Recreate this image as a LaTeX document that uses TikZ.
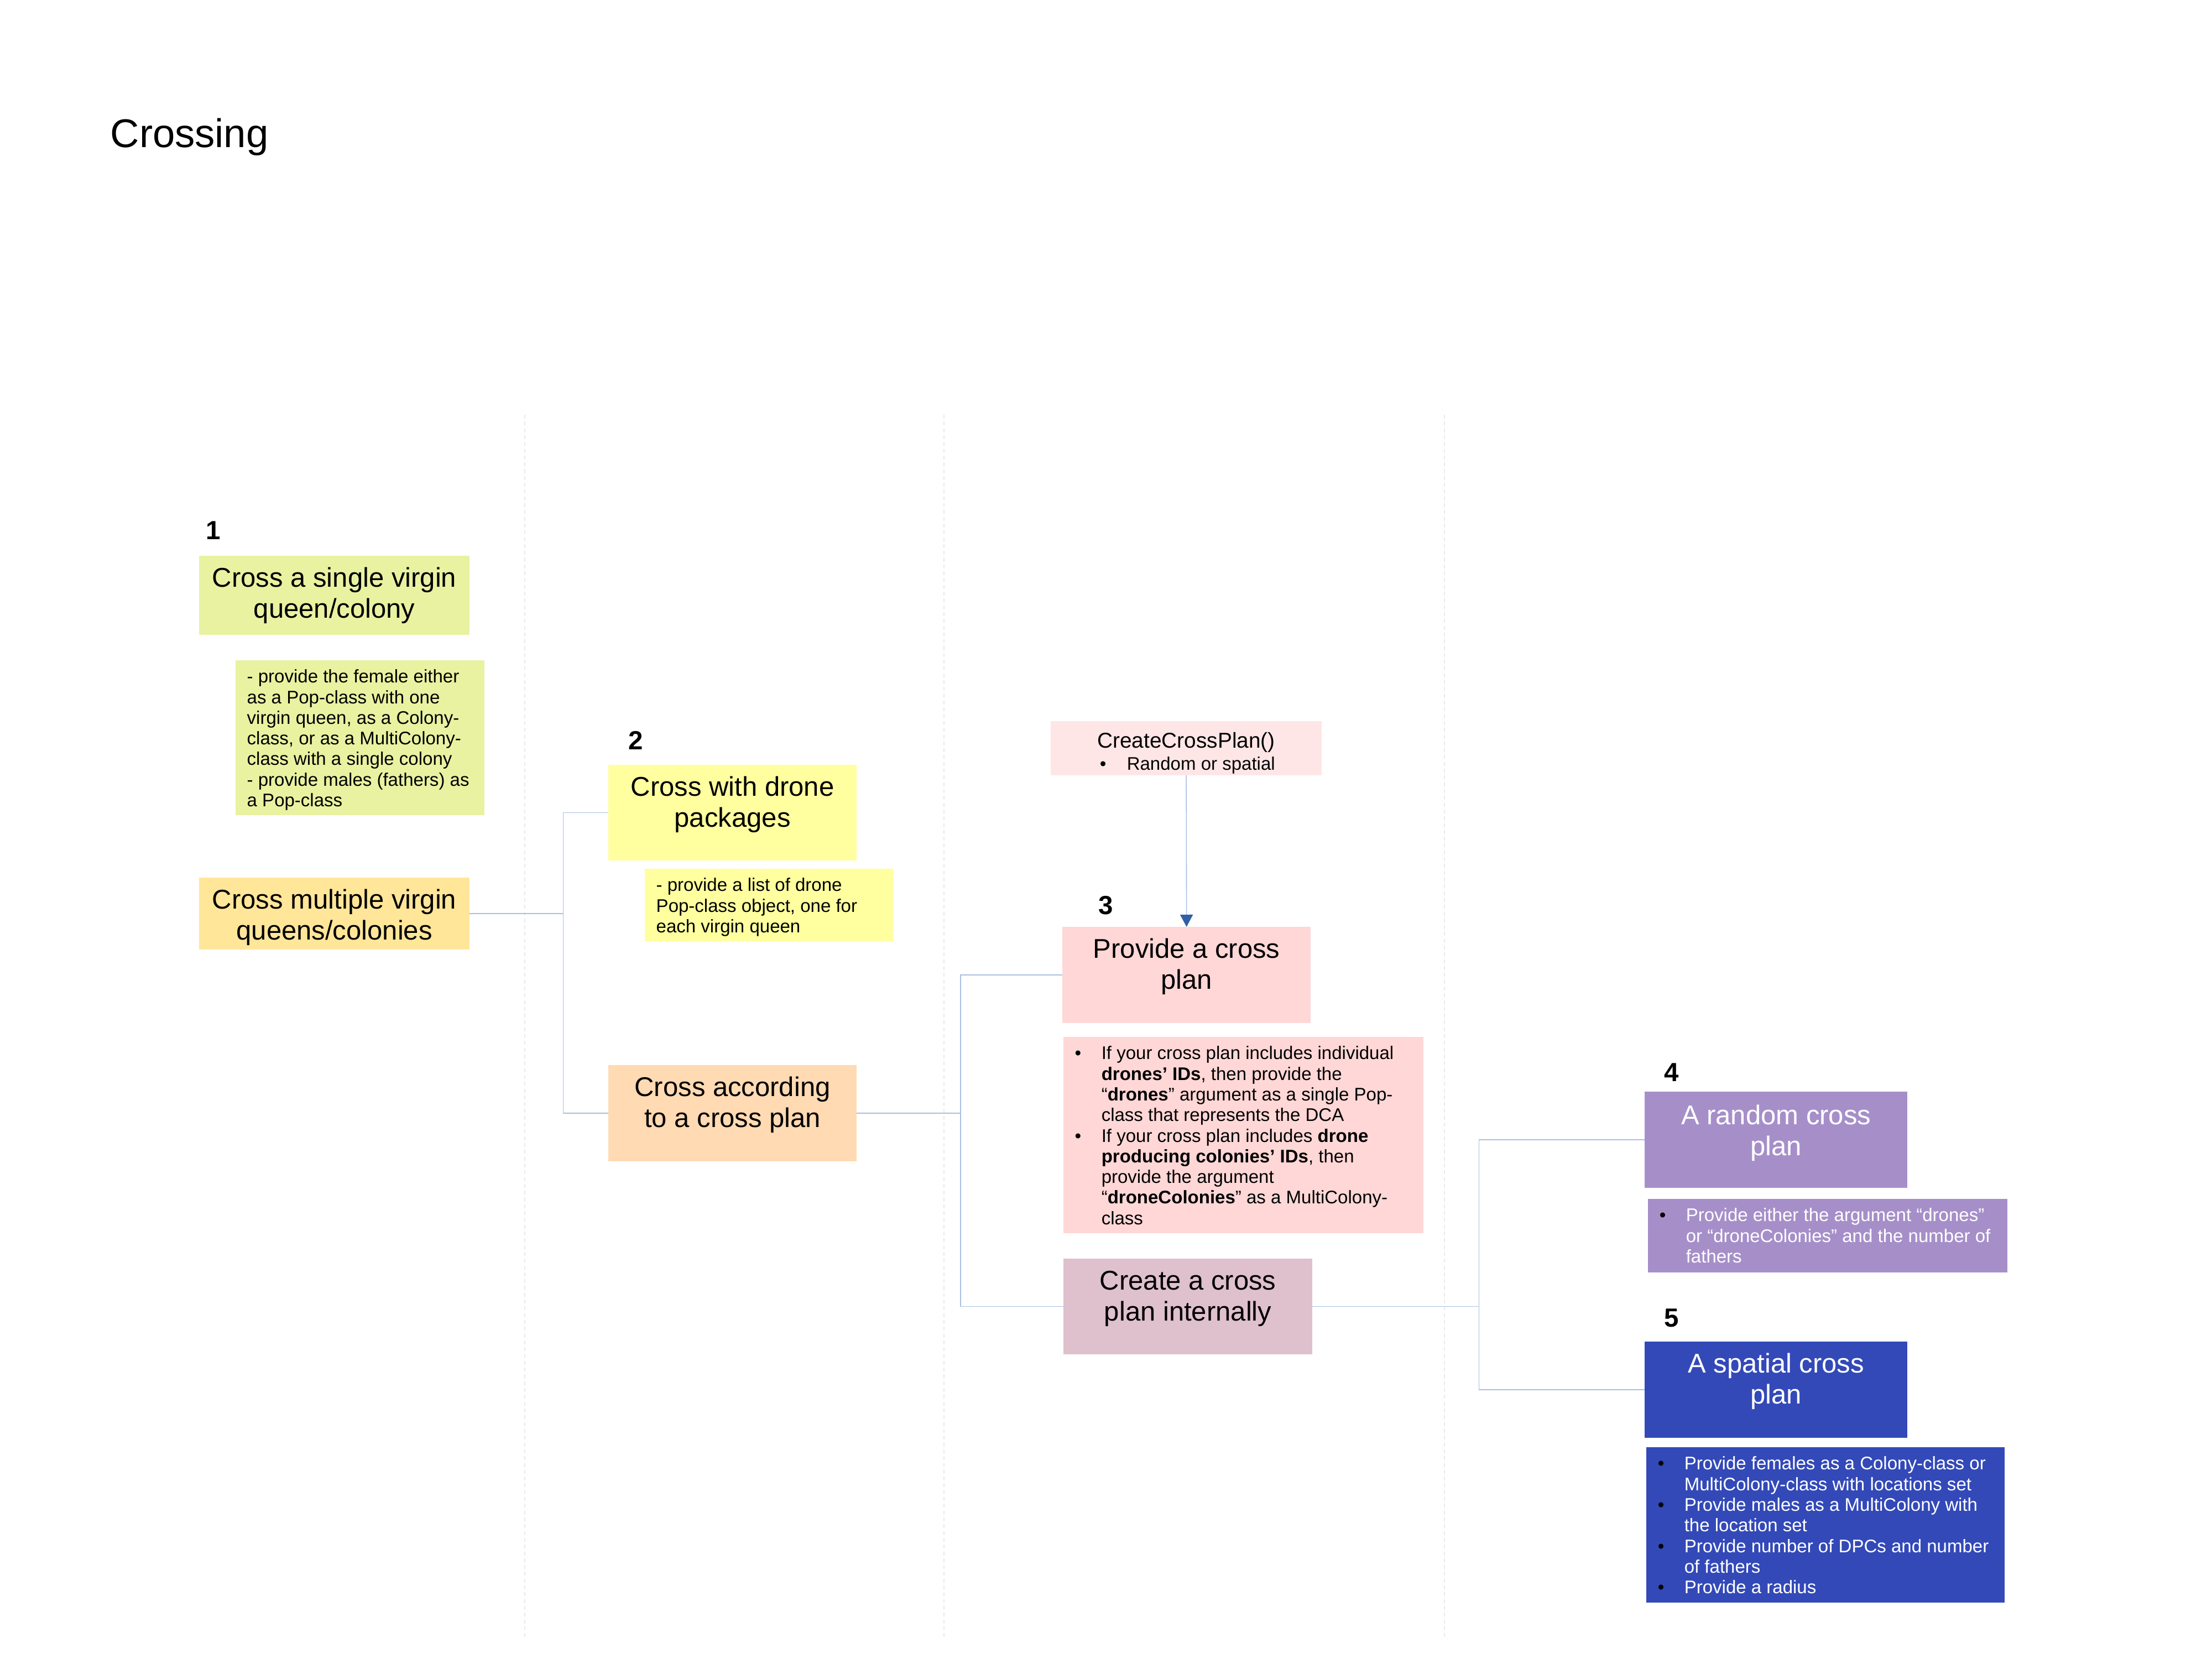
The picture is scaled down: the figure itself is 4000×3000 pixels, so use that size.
\documentclass[tikz,border=0pt]{standalone}
\usepackage{fontspec}
\setmainfont{Liberation Sans}
\usetikzlibrary{arrows.meta}
\definecolor{cOne}{HTML}{E8F2A1}
\definecolor{cMulti}{HTML}{FFE699}
\definecolor{cTwo}{HTML}{FFFF9F}
\definecolor{cAcc}{HTML}{FFDAB3}
\definecolor{cPlanFn}{HTML}{FFE6E6}
\definecolor{cThree}{HTML}{FFD7D7}
\definecolor{cInt}{HTML}{DFC0CD}
\definecolor{cFour}{HTML}{A68FC9}
\definecolor{cFive}{HTML}{3349B8}
\definecolor{connC}{HTML}{A9BFE2}
\definecolor{arrowC}{HTML}{2F5FA8}
\definecolor{gridC}{HTML}{EAEAEA}
\newcommand\tstrut{\rule{0pt}{0.9em}}
\newcommand\bul{\makebox[0.48cm][l]{\textbullet}}
\newcommand\bbul{\makebox[0.48cm][l]{\color{black}\textbullet}}
\newcommand\ind{\hspace*{0.48cm}}
\begin{document}
\begin{tikzpicture}[x=0.01cm, y=-0.01cm,
  box/.style={anchor=north west, inner sep=0pt, outer sep=0pt, draw=none},
  ttl/.style={anchor=north, inner sep=0pt, align=center, font=\fontsize{13.94pt}{15.93pt}\selectfont},
  note/.style={anchor=north west, inner sep=0pt, align=left, font=\fontsize{9.39pt}{10.61pt}\selectfont},
  num/.style={anchor=base west, inner sep=0pt, font=\fontsize{13.5pt}{16pt}\selectfont\bfseries},
  conn/.style={draw=connC, line width=0.45pt},
  gridline/.style={draw=gridC, line width=0.5pt, dash pattern=on 2pt off 1.5pt}]
\useasboundingbox (0,0) rectangle (4000,3000);

% column guide lines
\draw[gridline] (949,750) -- (949,2965);
\draw[gridline] (1707,750) -- (1707,2965);
\draw[gridline] (2612,750) -- (2612,2965);

% title
\node[anchor=base west, inner sep=0pt, font=\fontsize{20.6pt}{24pt}\selectfont] (title) at (199,266) {Crossing};

% column 1
\node[num] (l1) at (372,975) {1};
\node[box, fill=cOne, minimum width=4.89cm, minimum height=1.43cm] (b1) at (360,1005) {};
\node[ttl] (b1t) at ([yshift=-0.119cm]b1.north) {\tstrut Cross a single virgin\\queen/colony};
\node[box, fill=cOne, minimum width=4.50cm, minimum height=2.80cm] (n1) at (426,1194) {};
\node[note] (n1t) at ([xshift=0.2cm,yshift=-0.103cm]n1.north west) {\tstrut- provide the female either\\as a Pop-class with one\\virgin queen, as a Colony-\\class, or as a MultiColony-\\class with a single colony\\- provide males (fathers) as\\a Pop-class};
\node[box, fill=cMulti, minimum width=4.89cm, minimum height=1.30cm] (bm) at (360,1587) {};
\node[ttl] (bmt) at ([yshift=-0.119cm]bm.north) {\tstrut Cross multiple virgin\\queens/colonies};

% column 2
\node[num] (l2) at (1136,1355) {2};
\node[box, fill=cTwo, minimum width=4.49cm, minimum height=1.73cm] (b2) at (1100,1383) {};
\node[ttl] (b2t) at ([yshift=-0.119cm]b2.north) {\tstrut Cross with drone\\packages};
\node[box, fill=cTwo, minimum width=4.49cm, minimum height=1.31cm] (n2) at (1166,1571) {};
\node[note] (n2t) at ([xshift=0.2cm,yshift=-0.103cm]n2.north west) {\tstrut- provide a list of drone\\Pop-class object, one for\\each virgin queen};
\node[box, fill=cAcc, minimum width=4.49cm, minimum height=1.74cm] (ba) at (1100,1926) {};
\node[ttl] (bat) at ([yshift=-0.119cm]ba.north) {\tstrut Cross according\\to a cross plan};

% column 3
\node[box, fill=cPlanFn, minimum width=4.90cm, minimum height=0.98cm] (cp) at (1900,1304) {};
\node[anchor=base, inner sep=0pt, font=\fontsize{11.04pt}{13pt}\selectfont] (cpt) at ([yshift=-0.48cm]cp.north) {CreateCrossPlan()};
\node[anchor=base west, inner sep=0pt, font=\fontsize{9.39pt}{10.61pt}\selectfont] (cpb) at ([xshift=0.88cm,yshift=-0.88cm]cp.north west) {\makebox[0.49cm][l]{\textbullet}Random or spatial};
\node[num] (l3) at (1986,1653) {3};
\node[box, fill=cThree, minimum width=4.49cm, minimum height=1.74cm] (b3) at (1921,1676) {};
\node[ttl] (b3t) at ([yshift=-0.119cm]b3.north) {\tstrut Provide a cross\\plan};
\node[box, fill=cThree, minimum width=6.51cm, minimum height=3.55cm] (n3) at (1923,1875) {};
\node[note] (n3t) at ([xshift=0.2cm,yshift=-0.103cm]n3.north west) {\tstrut\bul If your cross plan includes individual\\\ind\textbf{drones’ IDs}, then provide the\\\ind“\textbf{drones}” argument as a single Pop-\\\ind class that represents the DCA\\\bul If your cross plan includes \textbf{drone}\\\ind\textbf{producing colonies’ IDs}, then\\\ind provide the argument\\\ind“\textbf{droneColonies}” as a MultiColony-\\\ind class};
\node[box, fill=cInt, minimum width=4.50cm, minimum height=1.73cm] (bi) at (1923,2276) {};
\node[ttl] (bit) at ([yshift=-0.119cm]bi.north) {\tstrut Create a cross\\plan internally};

% column 4
\node[num] (l4) at (3009,1955) {4};
\node[box, fill=cFour, minimum width=4.75cm, minimum height=1.74cm] (b4) at (2974,1974) {};
\node[ttl, text=white] (b4t) at ([yshift=-0.149cm]b4.north) {\tstrut A random cross\\plan};
\node[box, fill=cFour, minimum width=6.50cm, minimum height=1.33cm] (n4) at (2980,2168) {};
\node[note, text=white] (n4t) at ([xshift=0.2cm,yshift=-0.103cm]n4.north west) {\tstrut\bbul Provide either the argument “drones”\\\ind or “droneColonies” and the number of\\\ind fathers};
\node[num] (l5) at (3009,2399) {5};
\node[box, fill=cFive, minimum width=4.75cm, minimum height=1.74cm] (b5) at (2974,2426) {};
\node[ttl, text=white] (b5t) at ([yshift=-0.119cm]b5.north) {\tstrut A spatial cross\\plan};
\node[box, fill=cFive, minimum width=6.48cm, minimum height=2.81cm] (n5) at (2977,2617) {};
\node[note, text=white] (n5t) at ([xshift=0.2cm,yshift=-0.103cm]n5.north west) {\tstrut\bbul Provide females as a Colony-class or\\\ind MultiColony-class with locations set\\\bbul Provide males as a MultiColony with\\\ind the location set\\\bbul Provide number of DPCs and number\\\ind of fathers\\\bbul Provide a radius};

% connectors
\draw[conn] (bm.east) -- ++(169,0) |- (b2.west);
\draw[conn] (bm.east) -- ++(169,0) |- (ba.west);
\draw[conn] (ba.east) -- ++(188,0) |- (b3.west);
\draw[conn] (ba.east) -- ++(188,0) |- (bi.west);
\draw[conn] (bi.east) -- ++(301,0) |- (b4.west);
\draw[conn] (bi.east) -- ++(301,0) |- (b5.west);
\draw[conn, -{Triangle[width=0.23cm, length=0.22cm, color=arrowC]}] (cp.south) -- (b3.north);
\end{tikzpicture}
\end{document}
